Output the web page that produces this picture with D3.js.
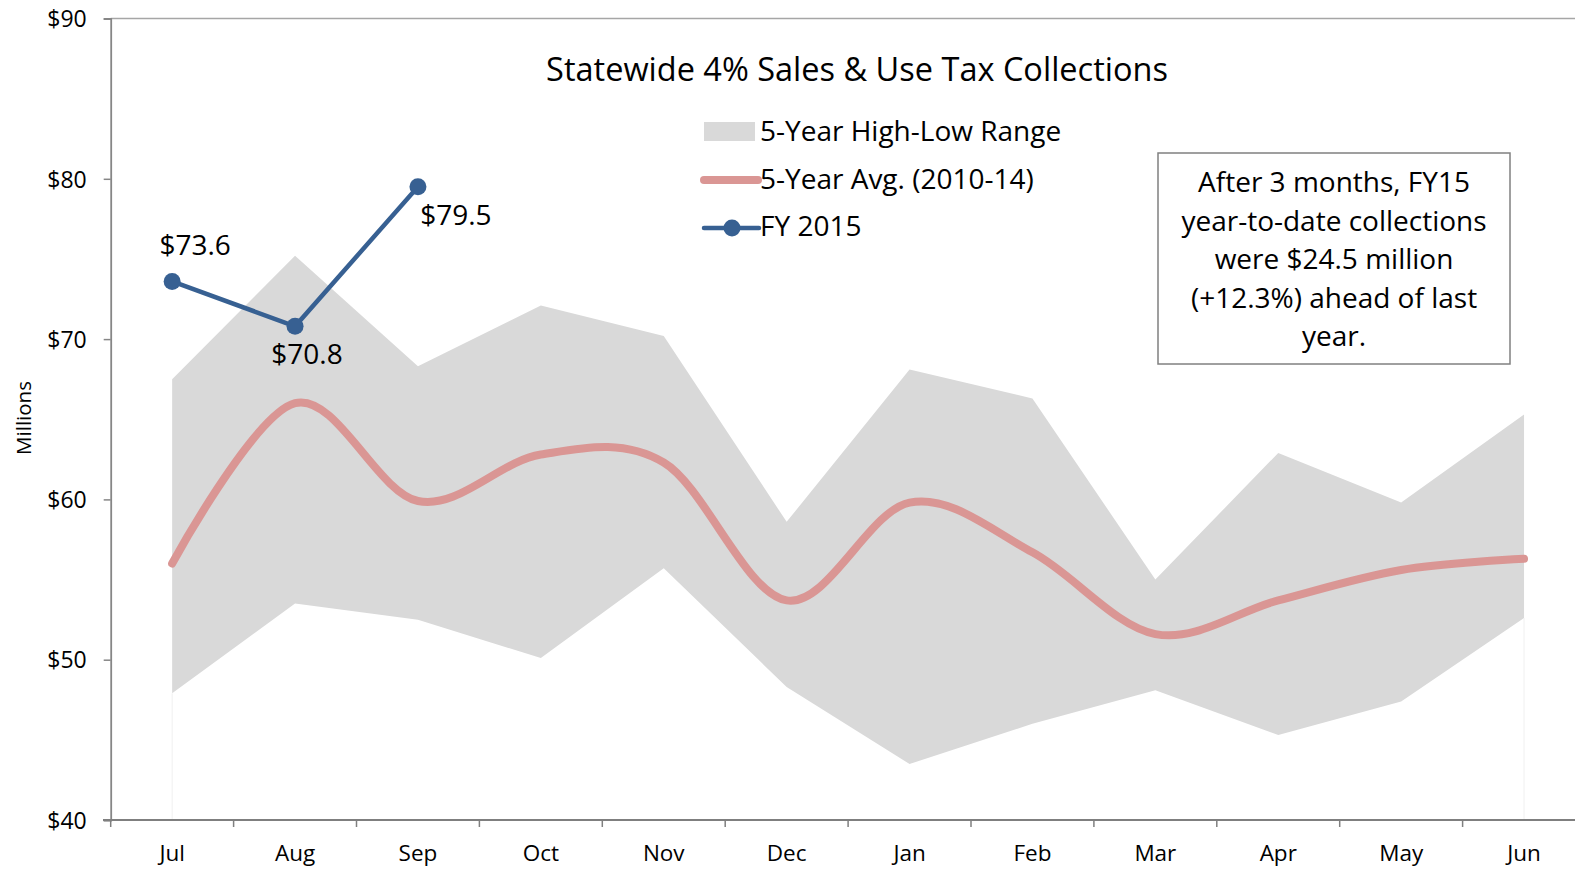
<!DOCTYPE html>
<html><head><meta charset="utf-8">
<script src="https://cdn.jsdelivr.net/npm/d3@7"></script>
<style>
html,body{margin:0;padding:0;background:#fff;overflow:hidden;}
text{font-family:"Open Sans",sans-serif;fill:#000;}
</style></head>
<body>
<svg id="chart" width="1575" height="869"></svg>
<script>
const months = ["Jul","Aug","Sep","Oct","Nov","Dec","Jan","Feb","Mar","Apr","May","Jun"];
const rangeHigh = [67.5,75.2,68.3,72.1,70.2,58.6,68.1,66.3,55.0,62.9,59.8,65.3];
const rangeLow  = [47.9,53.5,52.5,50.1,55.7,48.3,43.5,46.0,48.1,45.3,47.4,52.6];
const avg5yr    = [56.0,66.0,59.9,62.8,62.3,53.7,59.8,56.7,51.6,53.7,55.6,56.3];
const fy2015    = [73.6,70.8,79.5];
const yTicks    = [40,50,60,70,80,90];
const title = "Statewide 4% Sales & Use Tax Collections";
const legendLabels = ["5-Year High-Low Range","5-Year Avg. (2010-14)","FY 2015"];
const noteLines = ["After 3 months, FY15","year-to-date collections","were $24.5 million","(+12.3%) ahead of last","year."];

const svg = d3.select("#chart");
const x = d3.scaleBand().domain(months).range([110.7,1585.5]).padding(0);
const cx = m => x(m) + x.bandwidth()/2;
const y = d3.scaleLinear().domain([40,90]).range([820,18.5]);

// area (high-low)
const rows = months.map((m,i)=>({m, hi:rangeHigh[i], lo:rangeLow[i], avg:avg5yr[i]}));
svg.append("path").datum(rows)
  .attr("d", d3.area().x(d=>cx(d.m)).y0(d=>y(d.lo)).y1(d=>y(d.hi)))
  .attr("fill","#d9d9d9");
// faint edges of the white base series
[0, months.length-1].forEach(i=>{
  const m = months[i];
  svg.append("line").attr("x1",cx(m)).attr("x2",cx(m)).attr("y1",y(rangeLow[i])).attr("y2",y(40))
    .attr("stroke","#f0f0f0").attr("stroke-width",1);
});

// top border
svg.append("line").attr("x1",110.7).attr("x2",1575).attr("y1",y(90)).attr("y2",y(90))
  .attr("stroke","#a6a6a6").attr("stroke-width",1.5);

// y axis
const ya = svg.append("g").attr("transform","translate(110.7,0)")
  .call(d3.axisLeft(y).tickValues(yTicks).tickSize(7).tickPadding(17).tickFormat(d=>"$"+d));
ya.select(".domain").attr("stroke","#868686").attr("stroke-width",1.8);
ya.selectAll(".tick line").attr("stroke","#868686").attr("stroke-width",1.5);
ya.selectAll(".tick text").attr("font-family","Open Sans").attr("font-size",23).attr("fill","#000").attr("dy","0.36em");

// x axis
const xa = svg.append("g").attr("transform",`translate(0,${y(40)})`);
xa.append("line").attr("x1",103).attr("x2",1575).attr("y1",0).attr("y2",0)
  .attr("stroke","#7f7f7f").attr("stroke-width",2);
months.forEach(m=>{
  xa.append("line").attr("x1",x(m)).attr("x2",x(m)).attr("y1",0).attr("y2",7)
    .attr("stroke","#7f7f7f").attr("stroke-width",1.5);
  xa.append("text").attr("x",cx(m)).attr("y",41).attr("text-anchor","middle")
    .attr("font-size",22.5).text(m);
});

// y title
svg.append("text").attr("transform","translate(31,418) rotate(-90)")
  .attr("text-anchor","middle").attr("font-size",20.5).text("Millions");

// avg line (smoothed)
svg.append("path").datum(rows)
  .attr("d", d3.line().x(d=>cx(d.m)).y(d=>y(d.avg)).curve(d3.curveCatmullRom.alpha(0)))
  .attr("fill","none").attr("stroke","#da9694").attr("stroke-width",8).attr("stroke-linecap","round");

// FY2015 line
const fyRows = fy2015.map((v,i)=>({m:months[i], v}));
svg.append("path").datum(fyRows)
  .attr("d", d3.line().x(d=>cx(d.m)).y(d=>y(d.v)))
  .attr("fill","none").attr("stroke","#376092").attr("stroke-width",4.5);
svg.selectAll("circle.fy").data(fyRows).enter().append("circle")
  .attr("cx",d=>cx(d.m)).attr("cy",d=>y(d.v)).attr("r",8.5).attr("fill","#376092");
const labelOffsets = [[23,-26],[12,38],[38,38]];
svg.selectAll("text.fyl").data(fyRows).enter().append("text")
  .attr("x",(d,i)=>cx(d.m)+labelOffsets[i][0]).attr("y",(d,i)=>y(d.v)+labelOffsets[i][1])
  .attr("text-anchor","middle").attr("font-size",28).text(d=>"$"+d.v.toFixed(1));

// title
svg.append("text").attr("x",857).attr("y",81).attr("text-anchor","middle")
  .attr("font-size",32.5).text(title);

// legend
const lg = svg.append("g");
lg.append("rect").attr("x",704).attr("y",122).attr("width",51).attr("height",19).attr("fill","#d9d9d9");
lg.append("line").attr("x1",704).attr("x2",758).attr("y1",180).attr("y2",180)
  .attr("stroke","#da9694").attr("stroke-width",8).attr("stroke-linecap","round");
lg.append("line").attr("x1",704).attr("x2",759).attr("y1",228).attr("y2",228)
  .attr("stroke","#376092").attr("stroke-width",4.5).attr("stroke-linecap","round");
lg.append("circle").attr("cx",732).attr("cy",228).attr("r",8.5).attr("fill","#376092");
legendLabels.forEach((t,i)=>{
  lg.append("text").attr("x",760).attr("y",141+i*47.7).attr("font-size",28).text(t);
});

// annotation box
svg.append("rect").attr("x",1158).attr("y",153).attr("width",352).attr("height",211)
  .attr("fill","#fff").attr("stroke","#808080").attr("stroke-width",1.5);
noteLines.forEach((t,i)=>{
  svg.append("text").attr("x",1334).attr("y",192+i*38.6).attr("text-anchor","middle")
    .attr("font-size",28).text(t);
});
</script>
</body></html>
